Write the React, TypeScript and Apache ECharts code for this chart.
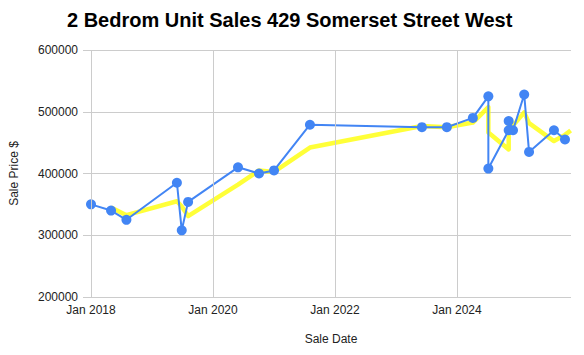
import React, { useEffect, useRef } from "react";
import * as echarts from "echarts";

const TITLE = "2 Bedrom Unit Sales 429 Somerset Street West";
const X_NAME = "Sale Date";
const Y_NAME = "Sale Price $";

const saleDates = [
  "2018-01-01", "2018-05-01", "2018-08-01", "2019-05-30", "2019-06-28", "2019-08-05",
  "2020-05-30", "2020-10-03", "2021-01-01", "2021-08-04", "2023-06-05", "2023-11-01",
  "2024-04-05", "2024-07-07", "2024-07-07", "2024-11-06", "2024-11-06", "2024-12-02",
  "2025-02-07", "2025-03-08", "2025-08-04", "2025-10-09",
];
const salePrices = [
  350000, 340000, 325000, 385000, 308000, 354000,
  410000, 400000, 405000, 479000, 475000, 475000,
  490000, 525000, 408000, 470000, 485000, 470000,
  528000, 435000, 470000, 455000,
];

const trendDates = [
  "2018-05-01", "2018-08-01", "2019-05-30", "2019-06-28", "2019-08-05",
  "2020-05-30", "2020-10-03", "2021-01-01", "2021-08-04", "2023-06-05", "2023-11-01",
  "2024-04-05", "2024-07-07", "2024-07-07", "2024-11-06", "2024-11-06", "2024-12-02",
  "2025-02-07", "2025-03-08", "2025-08-04", "2025-10-09", "2025-11-12",
];
const trendPrices = [
  345000, 332500, 355000, 346500, 331000,
  382000, 405000, 402500, 442000, 477000, 475000,
  482500, 507500, 466500, 439000, 477500, 477500,
  499000, 481500, 452500, 462500, 469500,
];

const xTickYears = [2018, 2020, 2022, 2024];
const X_MIN = 2018;
const X_MAX_DATE = "2025-11-14";
const Y_MIN = 200000;
const Y_MAX = 600000;
const Y_STEP = 100000;

function toYear(d: string): number {
  const [y, m, day] = d.split("-").map(Number);
  const start = Date.UTC(y, 0, 1);
  const end = Date.UTC(y + 1, 0, 1);
  const t = Date.UTC(y, m - 1, day);
  return y + (t - start) / (end - start);
}

const FONT = 'Arial, "Liberation Sans", sans-serif';

export default function App() {
  const ref = useRef<HTMLDivElement>(null);
  useEffect(() => {
    if (!ref.current) return;
    const chart = echarts.init(ref.current, undefined, { renderer: "svg" });
    const blue = saleDates.map((d, i) => [toYear(d), salePrices[i]]);
    const yellow = trendDates.map((d, i) => [toYear(d), trendPrices[i]]);
    chart.setOption({
      animation: false,
      backgroundColor: "#ffffff",
      title: {
        text: TITLE,
        left: 67,
        top: 10,
        padding: 0,
        textStyle: { fontFamily: FONT, fontSize: 20, fontWeight: "bold", color: "#000" },
      },
      grid: { left: 91, right: 13, top: 50, bottom: 58, containLabel: false },
      xAxis: {
        type: "value",
        min: X_MIN,
        max: toYear(X_MAX_DATE),
        interval: 2,
        name: X_NAME,
        nameLocation: "middle",
        nameGap: 36,
        nameTextStyle: { fontFamily: FONT, fontSize: 12, color: "#222" },
        axisLine: { show: false },
        axisTick: { show: false },
        splitLine: { show: false },
        axisLabel: {
          fontFamily: FONT,
          fontSize: 12,
          color: "#222",
          margin: 7,
          showMaxLabel: false,
          formatter: (v: number) => (Math.abs(v - Math.round(v)) < 1e-6 ? "Jan " + Math.round(v) : ""),
        },
      },
      yAxis: {
        type: "value",
        min: Y_MIN,
        max: Y_MAX,
        interval: Y_STEP,
        name: Y_NAME,
        nameLocation: "middle",
        nameGap: 71,
        nameTextStyle: { fontFamily: FONT, fontSize: 12, color: "#222" },
        axisLine: { show: false },
        axisTick: { show: true, length: 8, lineStyle: { color: "#cccccc" } },
        splitLine: { show: true, lineStyle: { color: "#cccccc", width: 1 } },
        axisLabel: {
          fontFamily: FONT,
          fontSize: 12,
          color: "#222",
          margin: 13,
          formatter: (v: number) => String(v),
        },
      },
      series: [
        {
          type: "line",
          data: [],
          z: 0,
          silent: true,
          markLine: {
            silent: true,
            symbol: "none",
            label: { show: false },
            lineStyle: { color: "#cccccc", width: 1, type: "solid" },
            data: xTickYears.map((y) => ({ xAxis: y })),
          },
        },
        {
          type: "line",
          data: yellow,
          z: 1,
          showSymbol: false,
          symbol: "none",
          lineStyle: { color: "rgba(255,255,0,0.78)", width: 4.5, join: "round" },
        },
        {
          type: "line",
          data: blue,
          z: 2,
          symbol: "circle",
          symbolSize: 10,
          itemStyle: { color: "#4285f4" },
          lineStyle: { color: "#4285f4", width: 2 },
        },
      ],
    });
    return () => chart.dispose();
  }, []);
  return (
    <div
      ref={ref}
      style={{ position: "absolute", left: 0, top: 0, width: 584, height: 355 }}
    />
  );
}
